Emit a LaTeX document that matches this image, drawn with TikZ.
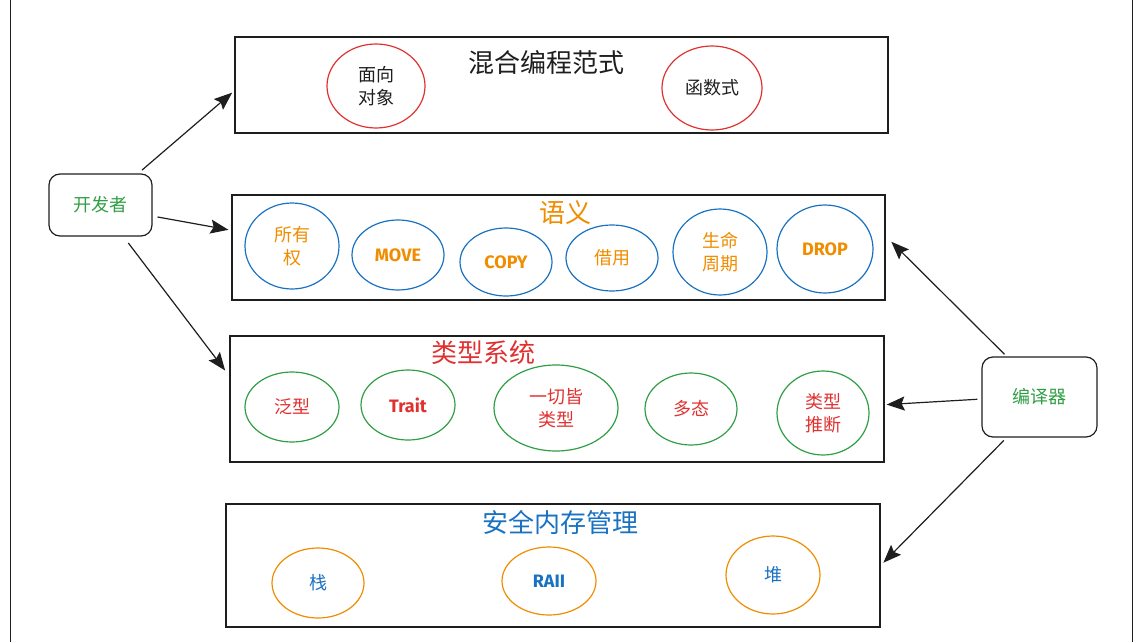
\documentclass[tikz,border=0pt]{standalone}
\usepackage{fontspec}
\setmainfont{Noto Sans CJK SC}
\newfontfamily\latinlbl{Fira Sans}
\usetikzlibrary{arrows.meta,shapes.geometric}
\definecolor{xred}{HTML}{E03131}
\definecolor{xorange}{HTML}{F08C00}
\definecolor{xblue}{HTML}{1971C2}
\definecolor{xgreen}{HTML}{2F9E44}
\definecolor{xink}{HTML}{1E1E1E}
\tikzset{
  groupbox/.style={draw=xink, line width=1.2pt, inner sep=0pt},
  actor/.style={draw=xink, line width=1.2pt, rounded corners=11pt, inner sep=0pt,
    text=xgreen, font=\fontsize{18}{22}\selectfont},
  grouptitle/.style={font=\fontsize{26}{30}\selectfont, inner sep=0pt},
  bubble/.style={ellipse, line width=1.2pt, inner sep=0pt, align=center,
    font=\fontsize{18}{23}\selectfont},
  redb/.style={bubble, draw=xred, text=xink},
  blueb/.style={bubble, draw=xblue, text=xorange},
  greenb/.style={bubble, draw=xgreen, text=xred},
  orangeb/.style={bubble, draw=xorange, text=xblue},
  en/.style={font=\latinlbl\bfseries\fontsize{18}{22}\selectfont},
  flow/.style={draw=xink, line width=1.2pt, -{Stealth[length=18pt,width=14pt,inset=3pt]}},
  frame/.style={draw=xink, line width=1pt}
}
\begin{document}
\begin{tikzpicture}[x=1pt,y=-1pt]
\useasboundingbox (0,0) rectangle (1142,642);
% outer frame lines
\coordinate (fl1) at (10,0); \coordinate (fl2) at (10,642);
\coordinate (fr1) at (1132,0); \coordinate (fr2) at (1132,642);
\draw[frame] (fl1) -- (fl2);
\draw[frame] (fr1) -- (fr2);

% group boxes
\node[groupbox, minimum width=653pt, minimum height=96pt] (b1) at (561.5,85) {};
\node[groupbox, minimum width=653pt, minimum height=105pt] (b2) at (558.5,247.5) {};
\node[groupbox, minimum width=654pt, minimum height=126pt] (b3) at (557,399) {};
\node[groupbox, minimum width=654pt, minimum height=123pt] (b4) at (553,565.5) {};

% titles
\node[grouptitle, text=xink] (t1) at (546,63) {混合编程范式};
\node[grouptitle, text=xorange] (t2) at (565,213) {语义};
\node[grouptitle, text=xred] (t3) at (483,353) {类型系统};
\node[grouptitle, text=xblue] (t4) at (560,522) {安全内存管理};

% paradigm bubbles
\node[redb, minimum width=98pt, minimum height=84pt] (oo) at (376,86) {面向\\对象};
\node[redb, minimum width=100pt, minimum height=84pt] (fn) at (712,88) {函数式};

% semantics bubbles
\node[blueb, minimum width=94pt, minimum height=86pt] (own) at (292,246) {所有\\权};
\node[blueb, en, text=xorange, minimum width=92pt, minimum height=70pt] (mv) at (398,255) {MOVE};
\node[blueb, en, text=xorange, minimum width=92pt, minimum height=68pt] (cp) at (506,262) {COPY};
\node[blueb, minimum width=92pt, minimum height=66pt] (bor) at (612,258) {借用};
\node[blueb, minimum width=94pt, minimum height=86pt] (life) at (720,252) {生命\\周期};
\node[blueb, en, text=xorange, minimum width=96pt, minimum height=88pt] (drop) at (825,249) {DROP};

% type system bubbles
\node[greenb, minimum width=94pt, minimum height=70pt] (gen) at (292,407) {泛型};
\node[greenb, en, text=xred, minimum width=94pt, minimum height=70pt] (trait) at (408,405) {Trait};
\node[greenb, minimum width=124pt, minimum height=86pt] (all) at (556,408) {一切皆\\类型};
\node[greenb, minimum width=92pt, minimum height=72pt] (poly) at (691,409) {多态};
\node[greenb, minimum width=92pt, minimum height=84pt] (inf) at (823,413) {类型\\推断};

% memory bubbles
\node[orangeb, minimum width=92pt, minimum height=70pt] (stk) at (318,583) {栈};
\node[orangeb, en, text=xblue, minimum width=94pt, minimum height=68pt] (raii) at (549,581) {RAII};
\node[orangeb, minimum width=94pt, minimum height=78pt] (heap) at (773,575) {堆};

% actors
\node[actor, minimum width=103pt, minimum height=62pt] (dev) at (100.5,205) {开发者};
\node[actor, minimum width=115pt, minimum height=80pt] (comp) at (1039.5,397) {编译器};

% connectors
\draw[flow, shorten <=5pt, shorten >=3pt] (dev.40) -- (b1.181);
\draw[flow, shorten <=5pt, shorten >=3pt] (dev.-12) -- (b2.177.6);
\draw[flow, shorten <=8pt, shorten >=7pt] (dev.-54) -- (b3.176.7);
\draw[flow, shorten <=3pt, shorten >=8pt] (comp.129.7) -- (b2.2.5);
\draw[flow, shorten <=4pt, shorten >=2pt] (comp.182) -- (b3.-1.5);
\draw[flow, shorten <=4pt, shorten >=4pt] (comp.231) -- (b4.0.6);
\end{tikzpicture}
\end{document}
